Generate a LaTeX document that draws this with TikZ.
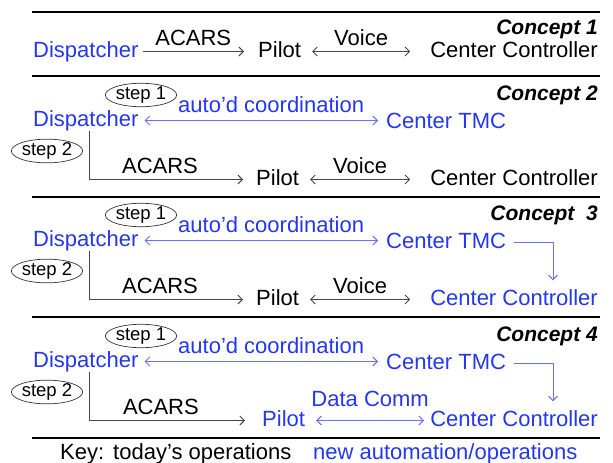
\documentclass[tikz,border=0pt]{standalone}
\usepackage{fontspec}
\setmainfont{Liberation Sans}
\usetikzlibrary{arrows.meta,shapes.geometric}
\definecolor{txtblue}{RGB}{35,55,240}
\definecolor{lnblue}{RGB}{105,115,250}
\definecolor{lngray}{RGB}{70,70,70}
\begin{document}
\begin{tikzpicture}[x=1pt,y=-1pt,
  lbl/.style={inner sep=0pt, text height=15.5pt, text depth=4.5pt, font=\fontsize{22}{26}\selectfont},
  newtxt/.style={lbl, text=txtblue},
  concept/.style={anchor=base east, inner sep=0pt, font=\fontsize{21}{25}\selectfont\bfseries\itshape},
  tip/.tip={Straight Barb[length=4.5pt,width=9pt]},
  oldarr/.style={draw=lngray, line width=0.9pt, -tip},
  oldboth/.style={draw=lngray, line width=0.9pt, tip-tip},
  newarr/.style={draw=lnblue, line width=1pt, -tip},
  newboth/.style={draw=lnblue, line width=1pt, tip-tip},
  rule/.style={line width=1.5pt},
  stepbox/.style={ellipse, draw=black!80, line width=0.7pt, minimum width=68pt, minimum height=22pt, inner sep=0pt, font=\fontsize{18.5}{21}\selectfont},
  lab/.style={lbl, above=1.5pt}]
\useasboundingbox (0,0) rectangle (613,463);
% rules
\draw[rule] (32,12) -- (600,12);
\draw[rule] (32,76) -- (600,76);
\draw[rule] (32,197) -- (600,197);
\draw[rule] (32,317) -- (600,317);
\draw[rule] (32,438) -- (600,438);

% Concept 1
\node[concept] (k1) at (598,34) {Concept 1};
\node[newtxt, anchor=base west] (d1) at (33,57) {Dispatcher};
\node[lbl, anchor=base west] (p1) at (258,57) {Pilot};
\node[lbl, anchor=base east] (c1) at (598,57) {Center Controller};
\draw[oldarr] ([xshift=4pt]d1.east) -- node[lab] {ACARS} ([xshift=-14pt]p1.west);
\draw[oldboth] ([xshift=11pt]p1.east) -- node[lab] {Voice} ([xshift=-20pt]c1.west);

% Concept 2
\begin{scope}[yshift=0pt]
\node[concept] (k2) at (598,100) {Concept 2};
\node[stepbox] (s12) at (141,95) {step 1};
\node[newtxt, anchor=base west] (d2) at (33,126) {Dispatcher};
\node[newtxt, anchor=base west] (t2) at (386,128) {Center TMC};
\node[newtxt, anchor=base west] (a2) at (178,112) {auto’d coordination};
\draw[newboth] ([xshift=6pt]d2.east) -- ([xshift=-8pt]d2.east -| t2.west);
\node[stepbox] (s22) at (47,151) {step 2};
\node[lbl, anchor=base west] (p2) at (256,185) {Pilot};
\node[lbl, anchor=base east] (c2) at (598,185) {Center Controller};
\draw[oldarr] ([xshift=3.5pt]d2.south) |- node[lab, pos=0.73] {ACARS} ([xshift=-13pt]p2.west);
\draw[oldboth] ([xshift=11pt]p2.east) -- node[lab] {Voice} ([xshift=-20pt]c2.west);
\end{scope}

% Concept 3
\begin{scope}[yshift=-120pt]
\node[concept] (k3) at (598,100) {Concept\ \ 3};
\node[stepbox] (s13) at (141,95) {step 1};
\node[newtxt, anchor=base west] (d3) at (33,126) {Dispatcher};
\node[newtxt, anchor=base west] (t3) at (386,128) {Center TMC};
\node[newtxt, anchor=base west] (a3) at (178,112) {auto’d coordination};
\draw[newboth] ([xshift=6pt]d3.east) -- ([xshift=-8pt]d3.east -| t3.west);
\node[stepbox] (s23) at (47,151) {step 2};
\node[lbl, anchor=base west] (p3) at (256,185) {Pilot};
\node[newtxt, anchor=base east] (c3) at (598,185) {Center Controller};
\draw[oldarr] ([xshift=3.5pt]d3.south) |- node[lab, pos=0.73] {ACARS} ([xshift=-13pt]p3.west);
\draw[oldboth] ([xshift=11pt]p3.east) -- node[lab] {Voice} ([xshift=-20pt]c3.west);
\draw[newarr] ([xshift=8pt]t3.east) -| ([xshift=39pt,yshift=9pt]c3.north);
\end{scope}

% Concept 4
\begin{scope}[yshift=-241pt]
\node[concept] (k4) at (598,100) {Concept 4};
\node[stepbox] (s14) at (141,95) {step 1};
\node[newtxt, anchor=base west] (d4) at (33,126) {Dispatcher};
\node[newtxt, anchor=base west] (t4) at (386,128) {Center TMC};
\node[newtxt, anchor=base west] (a4) at (178,112) {auto’d coordination};
\draw[newboth] ([xshift=6pt]d4.east) -- ([xshift=-8pt]d4.east -| t4.west);
\node[stepbox] (s24) at (47,151) {step 2};
\node[newtxt, anchor=base west] (p4) at (262,185) {Pilot};
\node[newtxt, anchor=base east] (c4) at (598,185) {Center Controller};
\draw[oldarr] ([xshift=3.5pt]d4.south) |- node[lab, pos=0.73] {ACARS} ([xshift=-17pt]p4.west);
\draw[newboth] ([xshift=11pt]p4.east) -- node[newtxt, above=9pt] {Data Comm} ([xshift=-6pt]c4.west);
\draw[newarr] ([xshift=8pt]t4.east) -| ([xshift=39pt,yshift=9pt]c4.north);
\end{scope}

% Key
\node[lbl, anchor=base west] (key) at (60,459) {Key:\hspace{9pt}today’s operations};
\node[newtxt, anchor=base west] (keyn) at (313,459) {new automation/operations};
\end{tikzpicture}
\end{document}
